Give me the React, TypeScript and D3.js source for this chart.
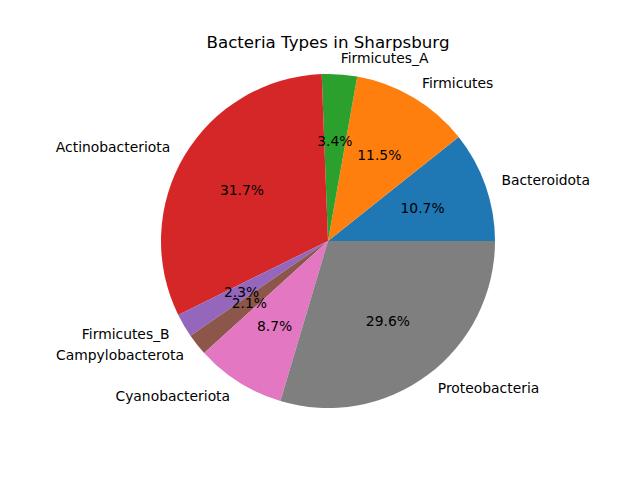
import React from "react";
import * as d3 from "d3";

const categories = ["Bacteroidota", "Firmicutes", "Firmicutes_A", "Actinobacteriota", "Firmicutes_B", "Campylobacterota", "Cyanobacteriota", "Proteobacteria"];
const values = [10.7, 11.5, 3.4, 31.7, 2.3, 2.1, 8.7, 29.6];
const colors = ["#1f77b4", "#ff7f0e", "#2ca02c", "#d62728", "#9467bd", "#8c564b", "#e377c2", "#7f7f7f"];
const title = "Bacteria Types in Sharpsburg";

export default function App() {
  const W = 640, H = 480;
  const cx = 328, cy = 241, r = 167;
  const total = d3.sum(values);
  const font = "DejaVu Sans, sans-serif";
  let acc = 0;
  const slices = values.map((v, i) => {
    const t1 = (acc / total) * 2 * Math.PI;
    acc += v;
    const t2 = (acc / total) * 2 * Math.PI;
    return { i, v, t1, t2, mid: (t1 + t2) / 2 };
  });
  const arc = d3.arc<any>().innerRadius(0).outerRadius(r);
  return (
    <svg width={W} height={H} style={{ position: "absolute", left: 0, top: 0, background: "#fff" }}>
      <text x={cx} y={48} textAnchor="middle" fontFamily={font} fontSize={16.67} fill="#000">{title}</text>
      <g transform={`translate(${cx},${cy})`}>
        {slices.map((s) => (
          <path key={s.i} d={arc({ startAngle: Math.PI / 2 - s.t1, endAngle: Math.PI / 2 - s.t2 }) as string} fill={colors[s.i]} />
        ))}
        {slices.map((s) => {
          const x = 1.1 * r * Math.cos(s.mid);
          const y = -1.1 * r * Math.sin(s.mid);
          return (
            <text key={"l" + s.i} x={x} y={y} dy="0.35em" textAnchor={x > 0 ? "start" : "end"} fontFamily={font} fontSize={13.89} fill="#000">{categories[s.i]}</text>
          );
        })}
        {slices.map((s) => {
          const x = 0.6 * r * Math.cos(s.mid);
          const y = -0.6 * r * Math.sin(s.mid);
          return (
            <text key={"p" + s.i} x={x} y={y} dy="0.35em" textAnchor="middle" fontFamily={font} fontSize={13.89} fill="#000">{s.v.toFixed(1) + "%"}</text>
          );
        })}
      </g>
    </svg>
  );
}
